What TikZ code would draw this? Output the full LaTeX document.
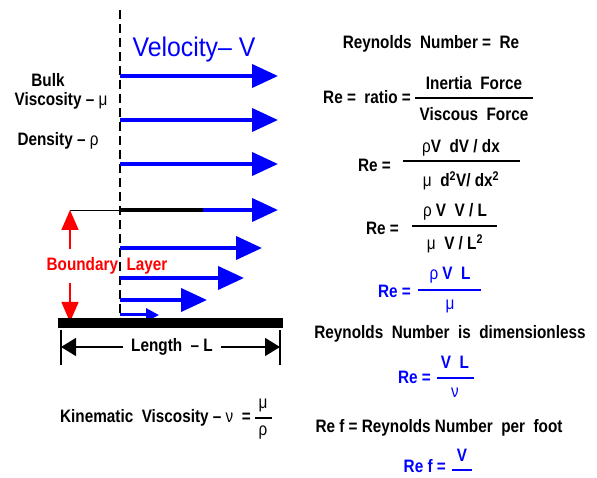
\documentclass[tikz,border=0pt]{standalone}
\usepackage{fontspec}
\setmainfont[FakeStretch=0.85]{Liberation Sans}
\newfontfamily\velfont[FakeStretch=0.92]{Liberation Sans}
\usetikzlibrary{arrows.meta,positioning}
\definecolor{VelBlue}{RGB}{0,0,255}
\definecolor{LayerRed}{RGB}{255,0,0}
\begin{document}
\begin{tikzpicture}[
  x=1pt, y=-1pt,
  every node/.style={font=\bfseries\fontsize{18}{20}\selectfont, inner sep=0pt},
  bluetxt/.style={text=VelBlue},
  velarrow/.style={-{Triangle[length=26pt,width=23pt]}, line width=4pt, VelBlue},
  tinyvel/.style={-{Triangle[length=13pt,width=13pt]}, line width=3pt, VelBlue},
  layerarrow/.style={-{Triangle[length=20pt,width=17pt]}, line width=1.5pt, LayerRed},
  dimarrow/.style={-{Triangle[length=15pt,width=18pt]}, line width=1.5pt},
  fracbar/.style={line width=1.8pt},
  plane/.style={line width=1.5pt, dash pattern=on 9pt off 5pt}
]
\useasboundingbox (0,0) rectangle (597,478);

% flow over the plate
\coordinate (lead) at (120,10);
\coordinate (foot) at (120,320);
\draw[plane] (lead) -- (foot);
\foreach \y/\x [count=\n] in {76/278,120/278,164/278,210/278,248/262,278/244,300/207}{
  \coordinate (s\n) at (120,\y);
  \coordinate (e\n) at (\x,\y);
  \draw[velarrow] (s\n) -- (e\n);
}
\coordinate (s8) at (120,315);
\coordinate (e8) at (159,315);
\draw[tinyvel] (s8) -- (e8);
\node[bluetxt, font=\velfont\fontsize{27}{30}\selectfont] (vel) at (194,50) {Velocity– V};

% boundary layer edge
\coordinate (bltop) at (70,210);
\coordinate (blbot) at (70,322);
\coordinate (bledge) at (203,210);
\draw[line width=0.8pt] (bltop) -- (s4);
\draw[line width=4pt] (s4) -- (bledge);
\node[text=LayerRed] (bl) at (107,266) {Boundary\ \ Layer};
\draw[layerarrow] ([yshift=8pt]bl.north -| bltop) -- (bltop);
\draw[layerarrow] ([yshift=-8pt]bl.south -| blbot) -- (blbot);

% plate and length
\fill (58,318) rectangle (283,328);
\coordinate (tl) at (61,330);
\coordinate (bl2) at (61,365);
\coordinate (tr) at (280,330);
\coordinate (br2) at (280,365);
\draw[line width=1.2pt] (tl) -- (bl2);
\draw[line width=1.2pt] (tr) -- (br2);
\node (len) at (172,347) {Length\ \ – L};
\coordinate (lenl) at (61,347);
\coordinate (lenr) at (280,347);
\draw[dimarrow] ([xshift=-8pt]len.west) -- (lenl);
\draw[dimarrow] ([xshift=8pt]len.east) -- (lenr);

% fluid properties
\node (bulk) at (48,80) {Bulk};
\node (visc) at (61,101) {Viscosity – {\mdseries μ}};
\node (dens) at (58,141) {Density – {\mdseries ρ}};
\node[anchor=east] (kin) at (251,418) {Kinematic\ \ Viscosity – {\mdseries ν}\ \ =};
\node (kinn) at (263,405) {\mdseries μ};
\node (kind) at (263,433) {\mdseries ρ};
\draw[fracbar] (255,418) -- (272,418);

% Reynolds number
\node (rn) at (431,44) {Reynolds\ \ Number =\ \ Re};

\node[anchor=east] (re1) at (411,97) {Re =\ \ ratio =};
\node (re1n) at (474,83) {Inertia\ \ Force};
\node (re1d) at (474,114) {Viscous\ \ Force};
\draw[fracbar] (415,98) -- (533,98);

\node[anchor=east] (re2) at (391,165) {Re =};
\node (re2n) at (461,148) {{\mdseries ρ}V\ \ dV / dx};
\node (re2d) at (461,181) {{\mdseries μ}\ \ d\textsuperscript{2}V/ dx\textsuperscript{2}};
\draw[fracbar] (403,161) -- (520,161);

\node[anchor=east] (re3) at (399,228) {Re =};
\node (re3n) at (455,212) {{\mdseries ρ} V\ \ V / L};
\node (re3d) at (455,244) {{\mdseries μ}\ \ V / L\textsuperscript{2}};
\draw[fracbar] (412,226) -- (497,226);

\node[anchor=east, bluetxt] (re4) at (411,291) {Re =};
\node[bluetxt] (re4n) at (450,275) {{\mdseries ρ} V\ \ L};
\node[bluetxt] (re4d) at (450,306) {\mdseries μ};
\draw[fracbar, VelBlue] (418,290) -- (481,290);

\node (dimless) at (450,334) {Reynolds\ \ Number\ \ is\ \ dimensionless};

\node[anchor=east, bluetxt] (re5) at (431,377) {Re =};
\node[bluetxt] (re5n) at (455,362) {V\ \ L};
\node[bluetxt] (re5d) at (455,393) {\mdseries ν};
\draw[fracbar, VelBlue] (437,378) -- (474,378);

\node (ref) at (439,428) {Re f = Reynolds Number\ \ per\ \ foot};

\node[anchor=east, bluetxt] (ref2) at (446,466) {Re f =};
\node[bluetxt] (ref2n) at (462,455) {V};
\draw[fracbar, VelBlue] (452,470) -- (472,470);
\end{tikzpicture}
\end{document}
